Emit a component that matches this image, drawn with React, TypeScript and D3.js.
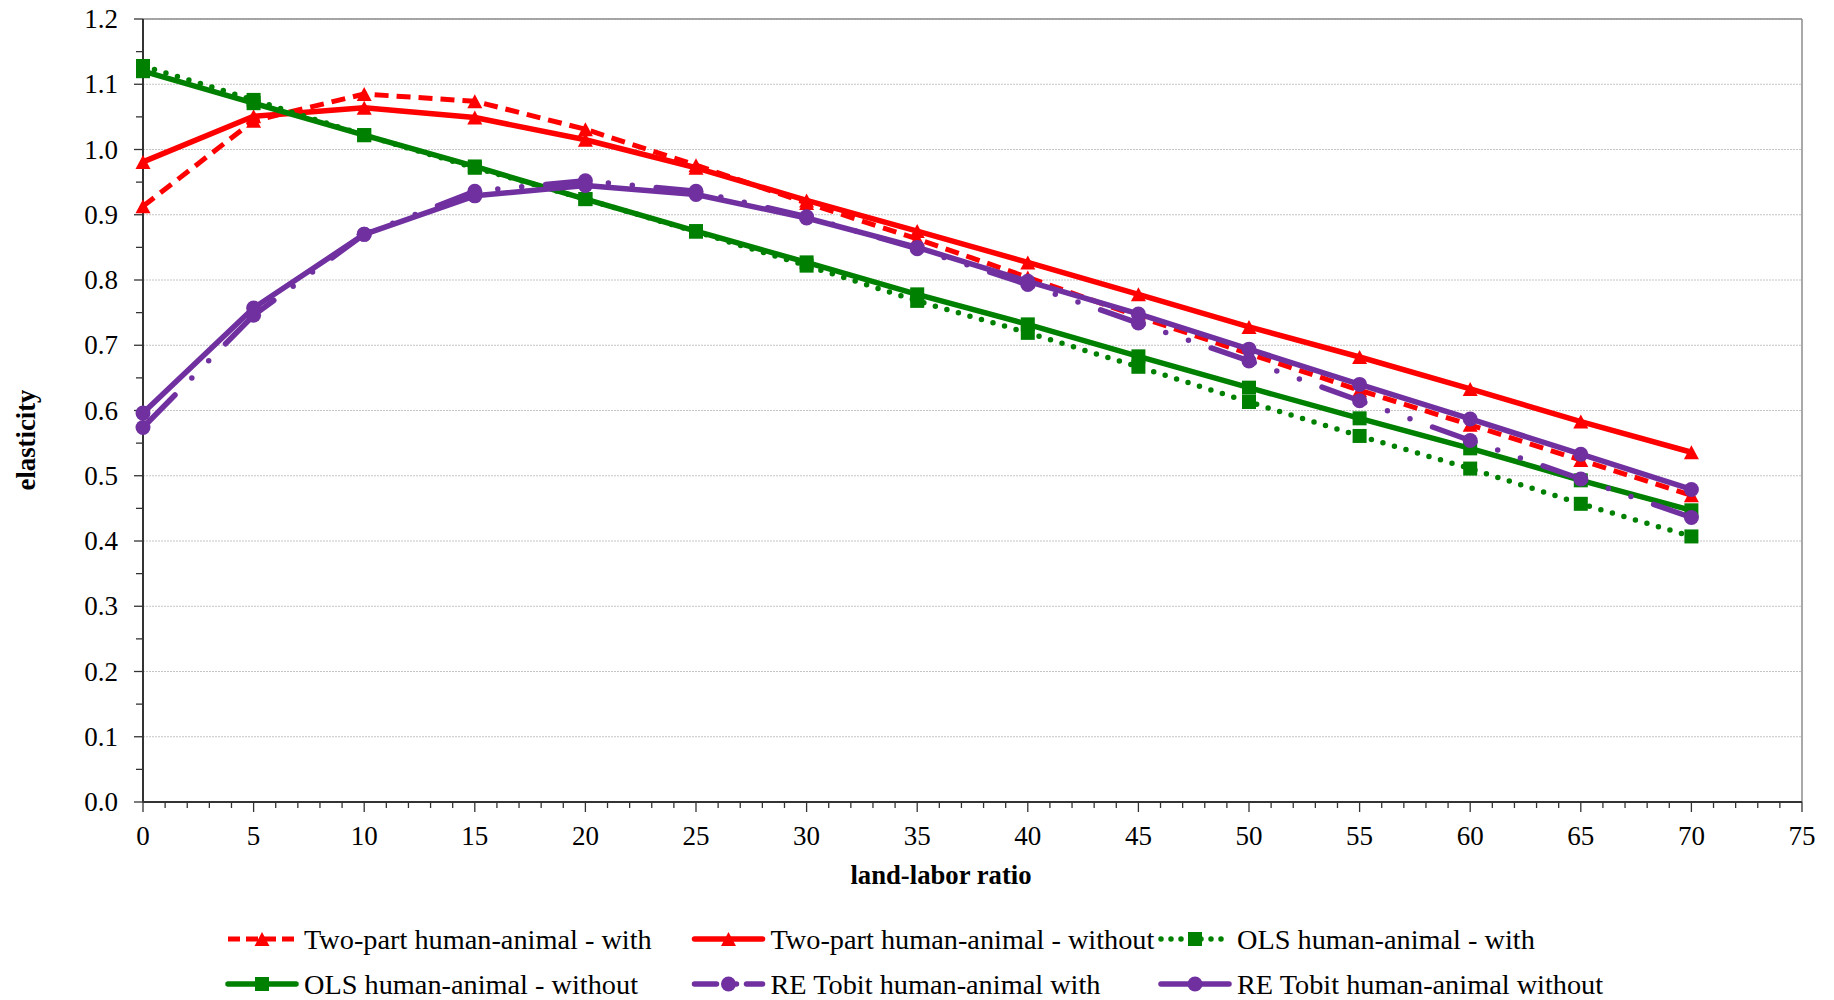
import React from "react";
import * as d3 from "d3";

const xValues = [0, 5, 10, 15, 20, 25, 30, 35, 40, 45, 50, 55, 60, 65, 70];
const twoPartWith = [0.913, 1.044, 1.085, 1.074, 1.031, 0.976, 0.918, 0.863, 0.804, 0.744, 0.687, 0.631, 0.578, 0.524, 0.47];
const twoPartWithout = [0.981, 1.051, 1.064, 1.049, 1.015, 0.972, 0.922, 0.875, 0.827, 0.778, 0.728, 0.682, 0.633, 0.583, 0.536];
const olsWith = [1.128, 1.076, 1.022, 0.972, 0.924, 0.874, 0.822, 0.768, 0.719, 0.667, 0.613, 0.561, 0.511, 0.457, 0.407];
const olsWithout = [1.12, 1.071, 1.022, 0.974, 0.924, 0.875, 0.827, 0.778, 0.732, 0.683, 0.635, 0.588, 0.542, 0.493, 0.447];
const reWith = [0.574, 0.746, 0.87, 0.936, 0.952, 0.936, 0.897, 0.848, 0.793, 0.734, 0.676, 0.615, 0.554, 0.495, 0.436];
const reWithout = [0.596, 0.757, 0.87, 0.929, 0.945, 0.931, 0.895, 0.85, 0.798, 0.748, 0.694, 0.64, 0.587, 0.533, 0.479];

const seriesNames = [
  "Two-part human-animal - with",
  "Two-part human-animal - without",
  "OLS human-animal - with",
  "OLS human-animal - without",
  "RE Tobit human-animal with",
  "RE Tobit human-animal without",
];
const yTicks = [0, 0.1, 0.2, 0.3, 0.4, 0.5, 0.6, 0.7, 0.8, 0.9, 1.0, 1.1, 1.2];
const xTicks = [0, 5, 10, 15, 20, 25, 30, 35, 40, 45, 50, 55, 60, 65, 70, 75];

const RED = "#FF0000";
const GREEN = "#008000";
const PURPLE = "#7030A0";
const FONT = "'Liberation Serif', 'Times New Roman', serif";

type Style = { color: string; marker: "tri" | "sq" | "circ"; dash: "dash" | "solid" | "dot" | "ldd"; data: number[] };
const styles: Style[] = [
  { color: RED, marker: "tri", dash: "dash", data: twoPartWith },
  { color: RED, marker: "tri", dash: "solid", data: twoPartWithout },
  { color: GREEN, marker: "sq", dash: "dot", data: olsWith },
  { color: GREEN, marker: "sq", dash: "solid", data: olsWithout },
  { color: PURPLE, marker: "circ", dash: "ldd", data: reWith },
  { color: PURPLE, marker: "circ", dash: "solid", data: reWithout },
];

const LEFT = 143, RIGHT = 1802, TOP = 19, BOTTOM = 802;
const x = d3.scaleLinear().domain([0, 75]).range([LEFT, RIGHT]);
const y = d3.scaleLinear().domain([0, 1.2]).range([BOTTOM, TOP]);

function Marker({ kind, cx, cy, color }: { kind: string; cx: number; cy: number; color: string }) {
  if (kind === "tri") {
    const w = 15, h = 14;
    return <polygon points={`${cx - w / 2},${cy + h / 2} ${cx + w / 2},${cy + h / 2} ${cx},${cy - h / 2}`} fill={color} />;
  }
  if (kind === "sq") return <rect x={cx - 7} y={cy - 7} width={14} height={14} fill={color} />;
  return <circle cx={cx} cy={cy} r={7.5} fill={color} />;
}

function dashProps(dash: string) {
  if (dash === "dash") return { strokeDasharray: "14 8", strokeLinecap: "butt" as const, strokeWidth: 5 };
  if (dash === "dot") return { strokeDasharray: "0 12", strokeLinecap: "round" as const, strokeWidth: 5.5 };
  return { strokeLinecap: "round" as const, strokeWidth: 5.5 };
}

function Series({ s }: { s: Style }) {
  const pts: [number, number][] = xValues.map((v, i) => [x(v), y(s.data[i])]);
  let lines: React.ReactNode;
  if (s.dash === "ldd") {
    lines = pts.slice(1).map((p, i) => {
      const q = pts[i];
      const path = d3.line()([p, q]) as string; // drawn from the end point back
      return (
        <path key={i} d={path} fill="none" stroke={s.color} strokeWidth={5.5} strokeLinecap="round"
          strokeDasharray="40 24 0 24 0 24 2000" />
      );
    });
  } else {
    lines = <path d={d3.line()(pts) as string} fill="none" stroke={s.color} strokeLinejoin="round" {...dashProps(s.dash)} />;
  }
  return (
    <g>
      {lines}
      {pts.map((p, i) => (
        <Marker key={i} kind={s.marker} cx={p[0]} cy={p[1]} color={s.color} />
      ))}
    </g>
  );
}

function LegendItem({ s, name, lx, ly }: { s: Style; name: string; lx: number; ly: number }) {
  const x0 = lx, x1 = lx + 68;
  let sample: React.ReactNode;
  if (s.dash === "ldd") {
    sample = <line x1={x0} y1={ly} x2={x1} y2={ly} stroke={s.color} strokeWidth={5.5} strokeLinecap="round" strokeDasharray="22 10 0 10 0 10" />;
  } else {
    sample = <line x1={x0} y1={ly} x2={x1} y2={ly} stroke={s.color} {...dashProps(s.dash)} strokeDasharray={s.dash === "dash" ? "12 6" : s.dash === "dot" ? "0 10" : undefined} />;
  }
  return (
    <g>
      {sample}
      <Marker kind={s.marker} cx={(x0 + x1) / 2} cy={ly} color={s.color} />
      <text x={x1 + 8} y={ly} dominantBaseline="central" fontFamily={FONT} fontSize={28.3} fill="#000">{name}</text>
    </g>
  );
}

export default function App() {
  const minorY = d3.range(0, 1.2001, 0.05);
  const minorX = d3.range(0, 76, 1);
  const legendCols = [228, 694.5, 1161];
  const legendRows = [939, 984];
  return (
    <svg width={1834} height={1000} style={{ position: "absolute", left: 0, top: 0, background: "#fff" }}>
      <rect x={0} y={0} width={1834} height={1000} fill="#fff" />
      {yTicks.filter((t) => t > 0).map((t) => (
        <line key={t} x1={LEFT} x2={RIGHT} y1={y(t)} y2={y(t)} stroke="#c4c4c4" strokeWidth={1} strokeDasharray="2 1" />
      ))}
      <line x1={LEFT} x2={RIGHT} y1={TOP} y2={TOP} stroke="#8c8c8c" strokeWidth={1.5} />
      <line x1={RIGHT} x2={RIGHT} y1={TOP} y2={BOTTOM} stroke="#8c8c8c" strokeWidth={1.5} />
      <line x1={LEFT} x2={LEFT} y1={TOP} y2={BOTTOM} stroke="#333" strokeWidth={2} />
      {minorY.map((t, i) => (
        <line key={i} x1={LEFT - (i % 2 === 0 ? 9 : 7)} x2={LEFT} y1={y(t)} y2={y(t)} stroke="#333" strokeWidth={1.3} />
      ))}
      {yTicks.map((t) => (
        <text key={t} x={118} y={y(t)} textAnchor="end" dominantBaseline="central" fontFamily={FONT} fontSize={27}>{t.toFixed(1)}</text>
      ))}
      <line x1={LEFT} x2={RIGHT} y1={BOTTOM} y2={BOTTOM} stroke="#333" strokeWidth={2} />
      {minorX.map((t) => (
        <line key={t} x1={x(t)} x2={x(t)} y1={BOTTOM} y2={BOTTOM + (t % 5 === 0 ? 10 : 6)} stroke="#333" strokeWidth={1.3} />
      ))}
      {xTicks.map((t) => (
        <text key={t} x={x(t)} y={836} textAnchor="middle" dominantBaseline="central" fontFamily={FONT} fontSize={27}>{t}</text>
      ))}
      <text x={941} y={875} textAnchor="middle" dominantBaseline="central" fontFamily={FONT} fontSize={26.7} fontWeight="bold">land-labor ratio</text>
      <text transform="translate(26,440) rotate(-90)" textAnchor="middle" dominantBaseline="central" fontFamily={FONT} fontSize={26.7} fontWeight="bold">elasticity</text>
      {styles.map((s, i) => <Series key={i} s={s} />)}
      {styles.map((s, i) => (
        <LegendItem key={i} s={s} name={seriesNames[i]} lx={legendCols[i % 3]} ly={legendRows[Math.floor(i / 3)]} />
      ))}
    </svg>
  );
}
